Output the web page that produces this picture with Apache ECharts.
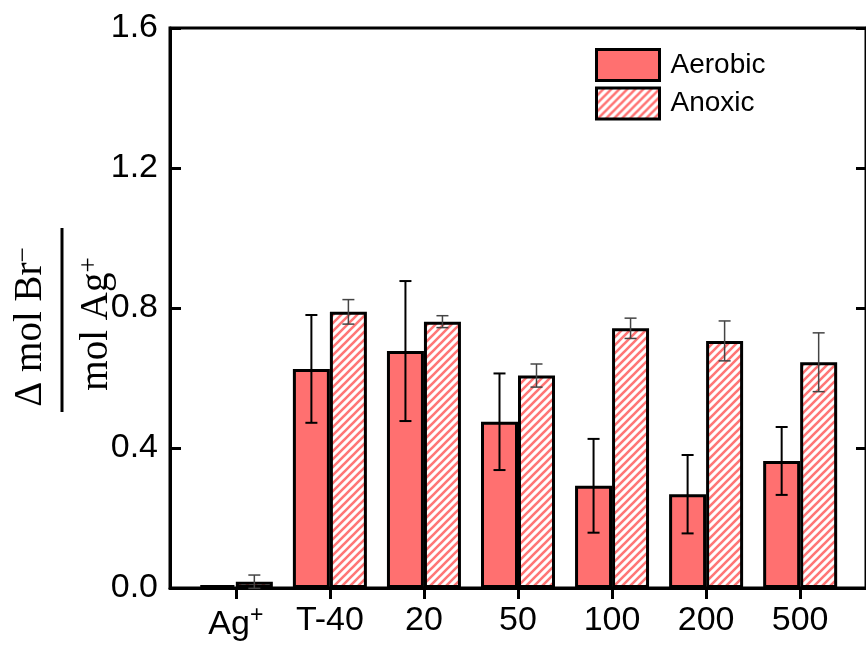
<!DOCTYPE html>
<html>
<head>
<meta charset="utf-8">
<script src="https://cdn.jsdelivr.net/npm/echarts@6/dist/echarts.min.js"></script>
<style>
  html, body { margin: 0; padding: 0; background: #fff; }
  #chart { width: 866px; height: 646px; }
</style>
</head>
<body>
<div id="chart"></div>
<script>
// ---- data ----
const categories = ['Ag+', 'T-40', '20', '50', '100', '200', '500'];
const aerobic    = [0.008, 0.626, 0.677, 0.475, 0.292, 0.268, 0.363];
const aerobicErr = [0.000, 0.154, 0.200, 0.138, 0.134, 0.112, 0.097];
const anoxic     = [0.018, 0.789, 0.761, 0.607, 0.742, 0.706, 0.645];
const anoxicErr  = [0.019, 0.035, 0.017, 0.033, 0.029, 0.057, 0.084];
const yTicks     = [0.0, 0.4, 0.8, 1.2, 1.6];
const seriesNames = ['Aerobic', 'Anoxic'];

// ---- styles ----
const FILL = '#ff7070';
const STRIPE = '#ff7676';
const BAR_W = 37;
const SANS = "'Liberation Sans', Arial, sans-serif";
const SERIF = "'Liberation Serif', 'Times New Roman', serif";

function makeHatch() {
  const s = 8;
  const c = document.createElement('canvas');
  c.width = s; c.height = s;
  const g = c.getContext('2d');
  g.fillStyle = '#ffffff';
  g.fillRect(0, 0, s, s);
  g.strokeStyle = STRIPE;
  g.lineWidth = 2.6;
  g.beginPath();
  g.moveTo(-2, 2); g.lineTo(2, -2);
  g.moveTo(0, s); g.lineTo(s, 0);
  g.moveTo(s - 2, s + 2); g.lineTo(s + 2, s - 2);
  g.stroke();
  return c;
}
const hatch = { image: makeHatch(), repeat: 'repeat' };

const xPos = categories.map((c, i) => i + 1);
const aerobicData = aerobic.map((v, i) => [xPos[i], v]);
const anoxicData = anoxic.map((v, i) => [xPos[i], v]);
const aerobicErrData = aerobic.map((v, i) => [xPos[i], v, aerobicErr[i]]);
const anoxicErrData = anoxic.map((v, i) => [xPos[i], v, anoxicErr[i]]);

function errRender(offset, color, lw) {
  return function (params, api) {
    const x = api.value(0), v = api.value(1), e = api.value(2);
    if (!e) return null;
    const hi = api.coord([x, v + e]);
    const lo = api.coord([x, v - e]);
    const cx = hi[0] + offset;
    const cap = 6;
    const st = { stroke: color, lineWidth: lw };
    return {
      type: 'group',
      children: [
        { type: 'line', shape: { x1: cx, y1: hi[1], x2: cx, y2: lo[1] }, style: st },
        { type: 'line', shape: { x1: cx - cap, y1: hi[1], x2: cx + cap, y2: hi[1] }, style: st },
        { type: 'line', shape: { x1: cx - cap, y1: lo[1], x2: cx + cap, y2: lo[1] }, style: st }
      ]
    };
  };
}

const chart = echarts.init(document.getElementById('chart'), null, { renderer: 'canvas' });

chart.setOption({
  animation: false,
  backgroundColor: '#ffffff',
  grid: {
    left: 170, top: 28, width: 700, height: 560,
    show: true, borderColor: '#000', borderWidth: 3, backgroundColor: 'transparent'
  },
  legend: {
    data: seriesNames,
    orient: 'vertical',
    left: 595, top: 48,
    padding: 0,
    itemWidth: 63, itemHeight: 31, itemGap: 4.5,
    icon: 'rect',
    itemStyle: { borderColor: '#000', borderWidth: 3 },
    textStyle: { fontSize: 28, fontFamily: SANS, color: '#000', padding: [0, 0, 0, 6] }
  },
  xAxis: {
    type: 'value',
    min: 0.3, max: 7.7,
    splitLine: { show: false },
    axisLine: { show: true, onZero: false, lineStyle: { color: '#000', width: 3 } },
    axisTick: { show: true, inside: false, length: 11, customValues: xPos, lineStyle: { color: '#000', width: 3 } },
    axisLabel: {
      show: true,
      customValues: xPos,
      margin: 16,
      fontSize: 34,
      fontFamily: SANS,
      color: '#000',
      formatter: function (v) {
        const c = categories[Math.round(v) - 1];
        if (c === 'Ag+') return '{b|Ag}{s|+}';
        return c;
      },
      rich: {
        b: { fontSize: 34, fontFamily: SANS, color: '#000', verticalAlign: 'bottom', lineHeight: 38 },
        s: { fontSize: 23, fontFamily: SANS, color: '#000', verticalAlign: 'top', lineHeight: 38 }
      }
    }
  },
  yAxis: [
    {
      type: 'value',
      min: yTicks[0], max: yTicks[yTicks.length - 1], interval: 0.4,
      position: 'left',
      splitLine: { show: false },
      axisLine: { show: true, lineStyle: { color: '#000', width: 3 } },
      axisTick: { show: true, inside: true, length: 11, lineStyle: { color: '#000', width: 3 } },
      axisLabel: {
        margin: 12, fontSize: 34, fontFamily: SANS, color: '#000',
        formatter: v => v.toFixed(1)
      }
    },
    {
      type: 'value',
      min: yTicks[0], max: yTicks[yTicks.length - 1], interval: 0.4,
      position: 'right',
      splitLine: { show: false },
      axisLine: { show: true, lineStyle: { color: '#000', width: 3 } },
      axisTick: { show: true, inside: true, length: 10, lineStyle: { color: '#000', width: 3 } },
      axisLabel: { show: false }
    }
  ],
  graphic: [
    {
      type: 'text', x: 30, y: 327, rotation: Math.PI / 2,
      style: {
        text: '{m|\u0394 mol Br}{s|\u2212}',
        align: 'center', verticalAlign: 'middle',
        rich: {
          m: { fontSize: 39, fontFamily: SERIF, fill: '#000', color: '#000', lineHeight: 40, verticalAlign: 'bottom' },
          s: { fontSize: 27, fontFamily: SERIF, fill: '#000', color: '#000', lineHeight: 40, verticalAlign: 'top' }
        }
      }
    },
    {
      type: 'line', shape: { x1: 62, y1: 228, x2: 62, y2: 412 },
      style: { stroke: '#000', lineWidth: 3 }
    },
    {
      type: 'text', x: 96, y: 324, rotation: Math.PI / 2,
      style: {
        text: '{m|mol Ag}{s|+}',
        align: 'center', verticalAlign: 'middle',
        rich: {
          m: { fontSize: 39, fontFamily: SERIF, fill: '#000', color: '#000', lineHeight: 40, verticalAlign: 'bottom' },
          s: { fontSize: 27, fontFamily: SERIF, fill: '#000', color: '#000', lineHeight: 40, verticalAlign: 'top' }
        }
      }
    }
  ],
  series: [
    {
      name: seriesNames[0], type: 'bar', data: aerobicData,
      barWidth: BAR_W, barGap: '0%',
      itemStyle: { color: FILL, borderColor: '#000', borderWidth: 3 },
      z: 2
    },
    {
      name: seriesNames[1], type: 'bar', data: anoxicData,
      barWidth: BAR_W, barGap: '0%',
      itemStyle: { color: hatch, borderColor: '#000', borderWidth: 3 },
      z: 2
    },
    {
      name: 'aerobicErr', type: 'custom', data: aerobicErrData,
      renderItem: errRender(-BAR_W / 2, '#000', 2), z: 5, silent: true
    },
    {
      name: 'anoxicErr', type: 'custom', data: anoxicErrData,
      renderItem: errRender(BAR_W / 2, '#444', 1.5), z: 5, silent: true
    }
  ]
});
</script>
</body>
</html>
